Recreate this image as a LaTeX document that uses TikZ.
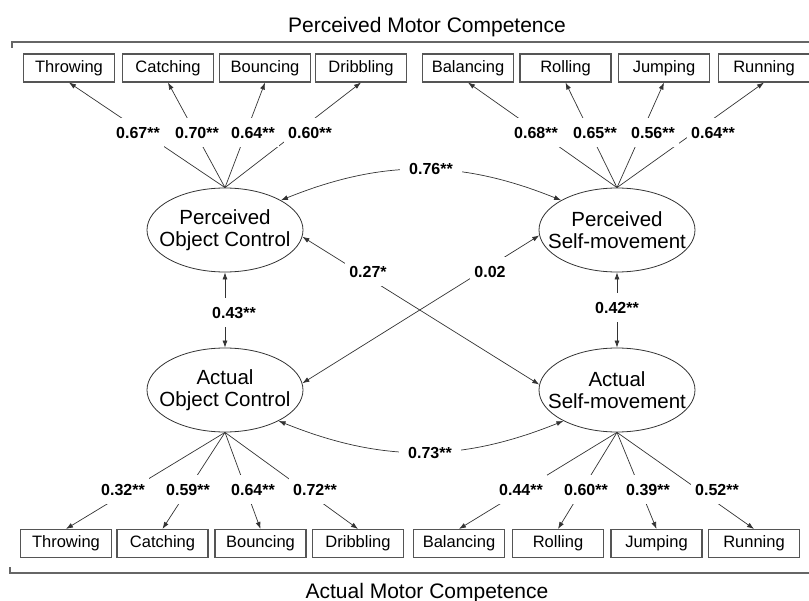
\documentclass[tikz,border=0pt]{standalone}
\usepackage{fontspec}
\setmainfont{Liberation Sans}
\usetikzlibrary{arrows.meta,shapes.geometric}
\definecolor{linegray}{HTML}{333333}
\definecolor{boxgray}{HTML}{555555}
\definecolor{brgray}{HTML}{666666}
\begin{document}
\begin{tikzpicture}[x=1pt,y=1pt,
  obs/.style={draw=boxgray, line width=1.1pt, minimum width=91pt, minimum height=28pt, inner sep=0pt, font=\fontsize{16.5}{18}\selectfont},
  lat/.style={draw=linegray, line width=0.8pt, ellipse, minimum width=156pt, minimum height=84pt, inner sep=0pt},
  lattext/.style={align=center, inner sep=0pt, font=\fontsize{20.5}{22}\selectfont},
  lab/.style={fill=white, inner xsep=4pt, inner ysep=0pt, minimum height=29pt, font=\bfseries\fontsize{16}{18}\selectfont},
  conn/.style={draw=linegray, line width=0.7pt},
  oneway/.style={conn, -{Latex[length=7pt,width=5pt]}},
  twoway/.style={conn, {Latex[length=7pt,width=5pt]}-{Latex[length=7pt,width=5pt]}},
  bracket/.style={draw=brgray, line width=1.3pt},
  title/.style={font=\fontsize{21}{24}\selectfont, anchor=base}
]
\useasboundingbox (0,0) rectangle (809,-601);

% titles and brackets
\node[title] (ttop) at (427,-33) {Perceived Motor Competence};
\node[title] (tbot) at (427,-598) {Actual Motor Competence};
\draw[bracket] (12,-48) -- (12,-42) -- (809,-42);
\draw[bracket] (10,-567) -- (10,-573) -- (809,-573);

% latent variables
\node[lat] (poc) at (225,-230) {};
\node[lattext] at (poc.center) {Perceived\\Object Control};
\node[lat] (psm) at (617,-230) {};
\node[lattext] at (psm.center) {Perceived\\Self-movement};
\node[lat] (aoc) at (225,-390) {};
\node[lattext] at (aoc.center) {Actual\\Object Control};
\node[lat] (asm) at (617,-390) {};
\node[lattext] at (asm.center) {Actual\\Self-movement};

% top indicators
\node[obs] (t1) at (69,-68) {Throwing};
\node[obs] (t2) at (168,-68) {Catching};
\node[obs] (t3) at (265,-68) {Bouncing};
\node[obs] (t4) at (361,-68) {Dribbling};
\node[obs] (t5) at (468,-68) {Balancing};
\node[obs] (t6) at (565.5,-68) {Rolling};
\node[obs] (t7) at (664,-68) {Jumping};
\node[obs] (t8) at (764,-68) {Running};

% bottom indicators
\node[obs] (b1) at (66,-543.5) {Throwing};
\node[obs] (b2) at (162.5,-543.5) {Catching};
\node[obs] (b3) at (260.5,-543.5) {Bouncing};
\node[obs] (b4) at (358,-543.5) {Dribbling};
\node[obs] (b5) at (459,-543.5) {Balancing};
\node[obs] (b6) at (558,-543.5) {Rolling};
\node[obs] (b7) at (656.5,-543.5) {Jumping};
\node[obs] (b8) at (754,-543.5) {Running};

% loadings
\foreach \i in {1,2,3,4} \draw[oneway] (poc.north) -- (t\i.south);
\foreach \i in {5,6,7,8} \draw[oneway] (psm.north) -- (t\i.south);
\foreach \i in {1,2,3,4} \draw[oneway] (aoc.south) -- (b\i.north);
\foreach \i in {5,6,7,8} \draw[oneway] (asm.south) -- (b\i.north);

% structural paths
\draw[twoway] (poc.28) to[bend left=22] (psm.152);
\draw[twoway] (aoc.-30) to[bend right=22] (asm.-150);
\draw[twoway] (poc.south) -- (aoc.north);
\draw[twoway] (psm.south) -- (asm.north);
\draw[twoway] (poc.-5) -- (asm.176);
\draw[twoway] (aoc.5) -- (psm.184);

% labels
\node[lab] (l1) at (138,-133) {0.67**};
\node[lab] (l2) at (197,-133) {0.70**};
\node[lab] (l3) at (253,-133) {0.64**};
\node[lab] (l4) at (310,-133) {0.60**};
\node[lab] (l5) at (536,-133) {0.68**};
\node[lab] (l6) at (595,-133) {0.65**};
\node[lab] (l7) at (653,-133) {0.56**};
\node[lab] (l8) at (713,-133) {0.64**};

\node[lab] (m1) at (123,-490) {0.32**};
\node[lab] (m2) at (188,-490) {0.59**};
\node[lab] (m3) at (253,-490) {0.64**};
\node[lab] (m4) at (315,-490) {0.72**};
\node[lab] (m5) at (521,-490) {0.44**};
\node[lab] (m6) at (586,-490) {0.60**};
\node[lab] (m7) at (648,-490) {0.39**};
\node[lab] (m8) at (717,-490) {0.52**};

\node[lab, minimum width=62pt] (c1) at (431,-169) {0.76**};
\node[lab, minimum width=62pt] (c2) at (430,-453) {0.73**};
\node[lab] (c3) at (234,-313) {0.43**};
\node[lab] (c4) at (617,-308) {0.42**};
\node[lab] (c5) at (368,-272) {0.27*};
\node[lab] (c6) at (490,-272) {0.02};
\end{tikzpicture}
\end{document}
